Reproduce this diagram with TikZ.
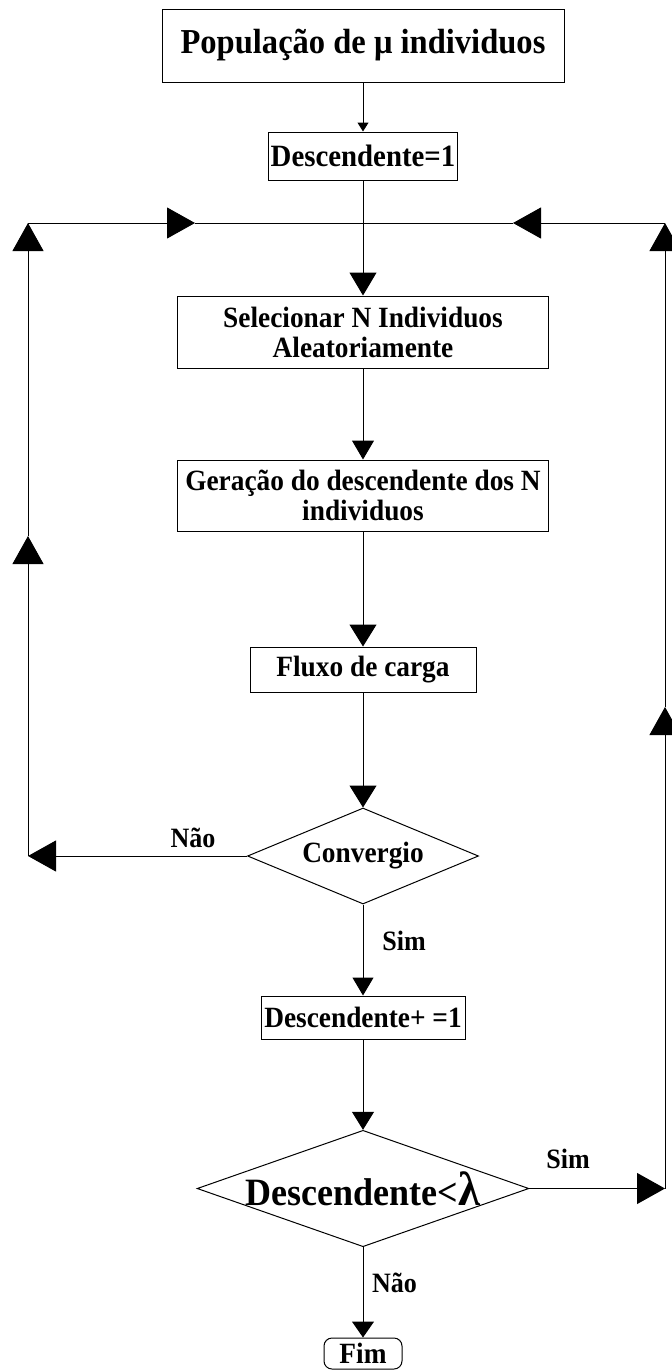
\documentclass[tikz,border=0pt]{standalone}
\usepackage{fontspec}
\setmainfont[FakeStretch=0.93]{Liberation Serif}
\usetikzlibrary{arrows.meta,shapes.geometric}
\begin{document}
\begin{tikzpicture}[x=1pt,y=-1pt,
  box/.style={draw,line width=1pt,inner sep=0pt,align=center,font=\bfseries\fontsize{29.4}{30}\selectfont},
  dia/.style={draw,diamond,line width=1pt,inner sep=0pt,font=\bfseries\fontsize{29.4}{30}\selectfont},
  lbl/.style={inner sep=0pt,anchor=base,font=\bfseries\fontsize{28}{30}\selectfont},
  conn/.style={line width=1pt},
  bigtip/.style={-{Triangle[length=28pt,width=31pt]}},
  midtip/.style 2 args={-{Triangle[length=#1pt,width=#2pt]}},
  smalltip/.style={-{Triangle[length=9pt,width=11pt]}},
]
\useasboundingbox (0,0) rectangle (672,1371);

% nodes
\node[box,minimum width=402pt,minimum height=73pt,font=\bfseries\fontsize{35}{37}\selectfont] (pop) at (363,45.5) {População de μ individuos};
\node[box,minimum width=189pt,minimum height=48pt,font=\bfseries\fontsize{31}{33}\selectfont] (d1) at (363,156) {Descendente=1};
\node[box,minimum width=371pt,minimum height=72pt] (sel) at (363,332) {Selecionar N Individuos\\Aleatoriamente};
\node[box,minimum width=371pt,minimum height=71pt] (ger) at (363,495.5) {Geração do descendente dos N\\individuos};
\node[box,minimum width=226pt,minimum height=45pt] (flux) at (363,669.5) {Fluxo de carga};
\node[dia,minimum width=231pt,minimum height=96pt,shape aspect=2.4] (conv) at (363,856) {Convergio};
\node[box,minimum width=204pt,minimum height=43pt] (dp) at (363,1017.5) {Descendente+ =1};
\node[dia,minimum width=328pt,minimum height=115pt,shape aspect=2.85,font=\bfseries\fontsize{38.7}{40}\selectfont] (dl) at (363,1188.5) {Descendente<{\fontsize{48}{48}\selectfont λ}};
\node[box,rounded corners=8pt,minimum width=78pt,minimum height=31pt] (fim) at (363,1353.5) {Fim};

% labels
\node[lbl] (nao1) at (193,847) {Não};
\node[lbl] (sim1) at (404,950) {Sim};
\node[lbl] (sim2) at (568,1168) {Sim};
\node[lbl] (nao2) at (394.5,1292) {Não};

% corner coordinates
\coordinate (C) at (363,223);
\coordinate (LB) at (28,856);
\coordinate (LM) at (28,536);
\coordinate (LT) at (28,223);
\coordinate (LH) at (195,223);
\coordinate (RB) at (665,1188.5);
\coordinate (RM) at (665,707);
\coordinate (RT) at (665,223);
\coordinate (RH) at (513,223);

% main flow
\draw[conn,smalltip] (pop) -- (d1);
\draw[conn,midtip={23}{27}] (d1) -- (sel);
\draw[conn,midtip={19}{22}] (sel) -- (ger);
\draw[conn,midtip={22}{27}] (ger) -- (flux);
\draw[conn,midtip={22}{27}] (flux) -- (conv);
\draw[conn,midtip={18}{21}] (conv) -- (dp);
\draw[conn,midtip={18}{22}] (dp) -- (dl);
\draw[conn,midtip={16}{22}] (dl) -- (fim);

% left loop
\draw[conn,bigtip] (conv.west) -- (LB);
\draw[conn,bigtip] (LB) -- (LM);
\draw[conn,bigtip] (LM) -- (LT);
\draw[conn,bigtip] (LT) -- (LH);
\draw[conn] (LH) -- (C);

% right loop
\draw[conn,bigtip] (dl.east) -- (RB);
\draw[conn,bigtip] (RB) -- (RM);
\draw[conn,bigtip] (RM) -- (RT);
\draw[conn,bigtip] (RT) -- (RH);
\draw[conn] (RH) -- (C);
\end{tikzpicture}
\end{document}
